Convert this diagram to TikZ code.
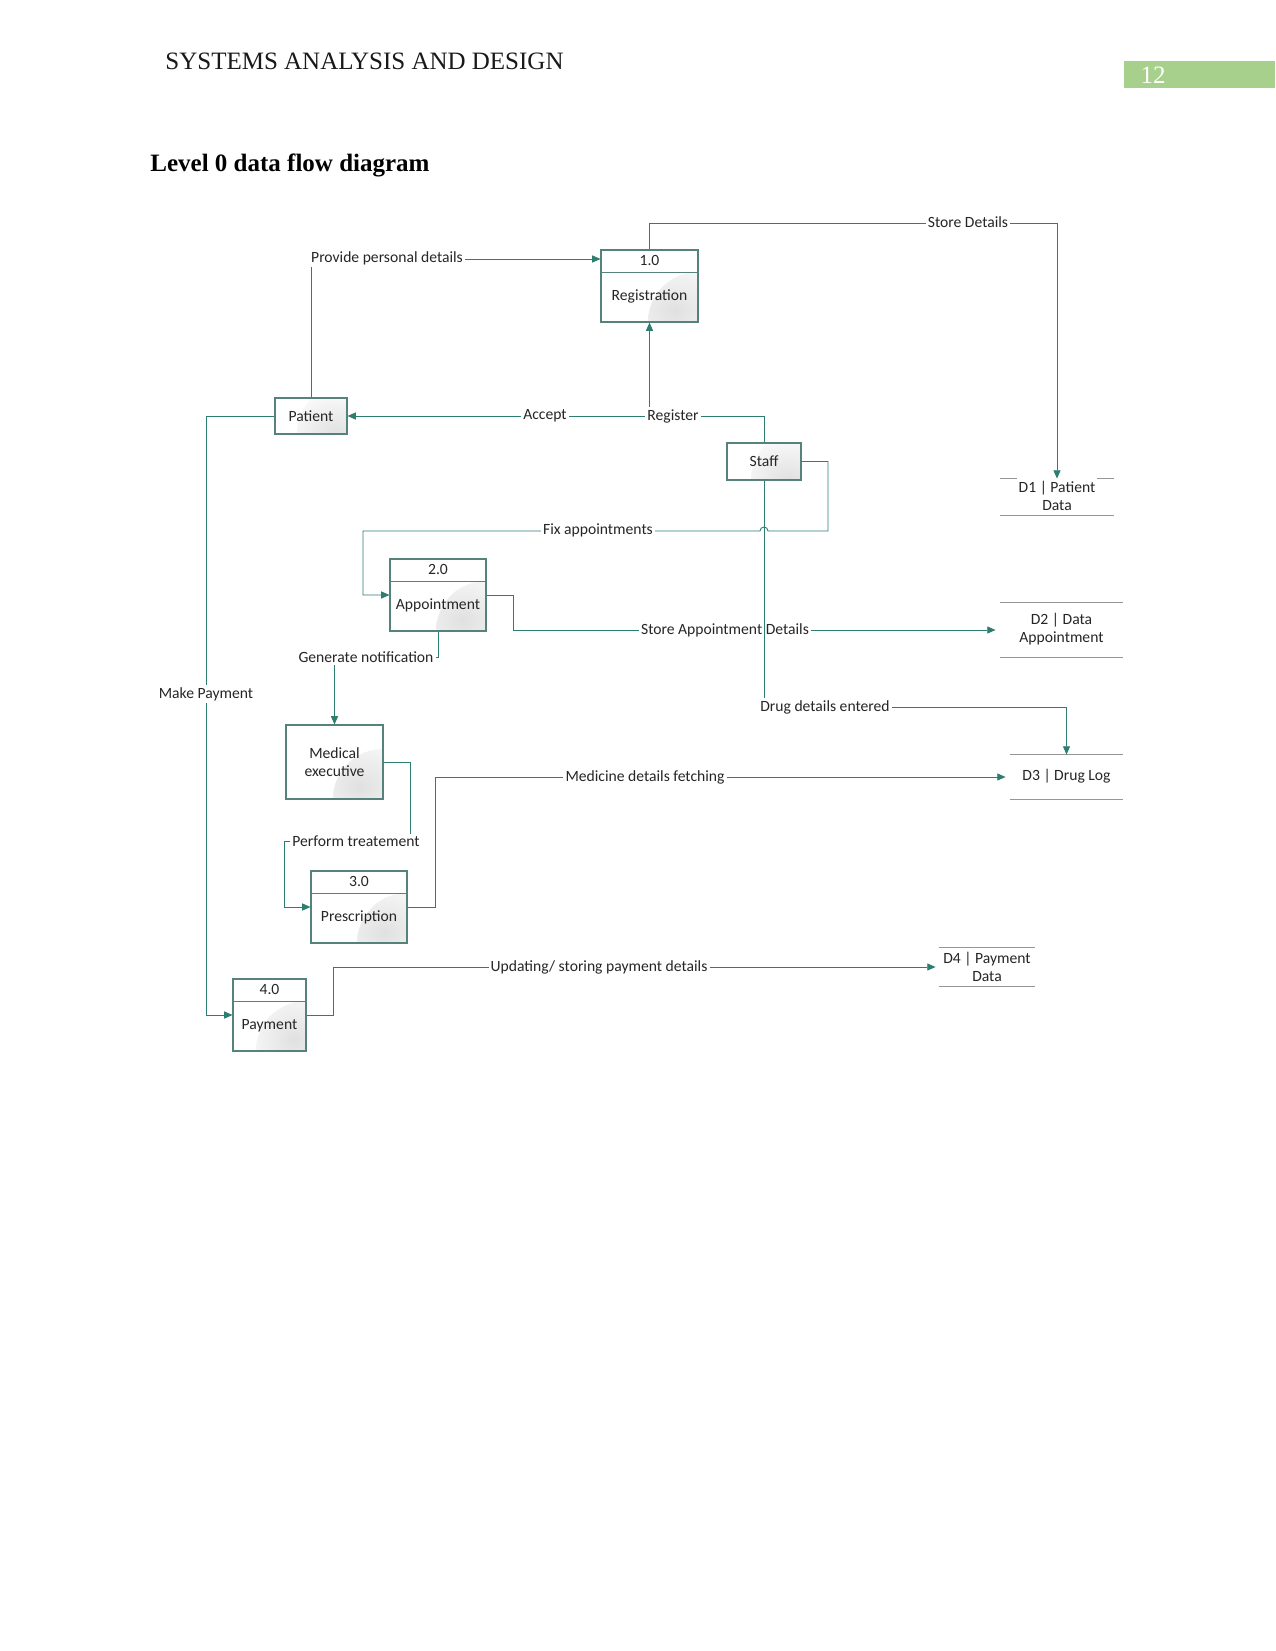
\documentclass[tikz,border=0pt]{standalone}
\usepackage{fontspec}
\setmainfont{Liberation Serif}
\newfontfamily\dfont{Carlito}
\usetikzlibrary{arrows.meta,calc}
\definecolor{linec}{RGB}{45,125,112}
\definecolor{boxc}{RGB}{85,130,122}
\definecolor{storec}{RGB}{150,150,150}
\definecolor{tabgreen}{RGB}{168,208,141}
\tikzset{
  flow/.style={draw=linec, line width=0.45pt, -{Triangle[length=4pt,width=3.4pt]}},
  proc/.style={draw=boxc, line width=0.5pt, fill=white, inner sep=0pt,
    path picture={\shade[inner color=black!12, outer color=white] (path picture bounding box.south east) circle[radius=24pt];}},
  txt/.style={font=\dfont\fontsize{7.5}{8.6}\selectfont, inner sep=0.5pt, align=center, text=black!85},
  ent/.style={proc, txt},
  lbl/.style={txt, fill=white, inner sep=1pt},
  storeline/.style={draw=storec, line width=0.5pt},
  store/.style={inner sep=0pt}
}
\newcommand\dfdproc[5]{%
  \node[proc, minimum width=#3*0.48pt, minimum height=34.56pt] (#1) at (#2) {};
  \draw[boxc, line width=0.5pt] ($(#1.north west)+(0,23)$) -- ($(#1.north east)+(0,23)$);
  \node[txt] (#1n) at ($(#1.north)+(0,11.5)$) {#4};
  \node[txt] (#1t) at ($(#1.north)+(0,47)$) {#5};}
\newcommand\dfdstore[5]{%
  \node[store, minimum width=#3*0.48pt, minimum height=#4*0.48pt] (#1) at (#2) {};
  \draw[storeline] (#1.north west) -- (#1.north east);
  \draw[storeline] (#1.south west) -- (#1.south east);}
\begin{document}
\begin{tikzpicture}[x=0.48pt, y=-0.48pt]
\useasboundingbox (0,0) rectangle (1275,1651);

% header
\node[anchor=west, font=\fontsize{12}{14}\selectfont, inner sep=0pt, text=black!90] (hdr) at (165,61) {SYSTEMS ANALYSIS AND DESIGN};
\node[fill=tabgreen, anchor=north west, minimum width=151*0.48pt, minimum height=27*0.48pt, inner sep=0pt] (tab) at (1124,61) {};
\node[text=white, font=\fontsize{12}{14}\selectfont, inner sep=0pt] (pg) at (1153,75) {12};
\node[anchor=west, font=\bfseries\fontsize{12}{14}\selectfont, inner sep=0pt] (title) at (150,165) {Level 0 data flow diagram};

% processes
\dfdproc{reg}{649.5,286}{97}{1.0}{Registration}
\dfdproc{app}{438,595}{96}{2.0}{Appointment}
\dfdproc{pre}{359,907}{96}{3.0}{Prescription}
\dfdproc{pay}{269.5,1015}{73}{4.0}{Payment}

% external entities
\node[ent, minimum width=72*0.48pt, minimum height=36*0.48pt] (patient) at (311,416) {Patient};
\node[ent, minimum width=74*0.48pt, minimum height=37*0.48pt] (staff) at (764,461.5) {Staff};
\node[ent, minimum width=97*0.48pt, minimum height=74*0.48pt] (medexec) at (334.5,762) {Medical\\executive};

% data stores
\dfdstore{d1}{1057,497}{114}{36}{}
\dfdstore{d2}{1061.5,630}{123}{54}{}
\dfdstore{d3}{1066.5,777}{113}{44}{}
\dfdstore{d4}{987,967}{96}{38}{}
\node[lbl, inner ysep=1.5pt] (d1t) at (1057,496) {D1 | Patient\\Data};
\node[lbl] (d2t) at (1061.5,629) {D2 | Data\\Appointment};
\node[lbl] (d3t) at (1066.5,776) {D3 | Drug Log};
\node[lbl, inner ysep=1.5pt] (d4t) at (987,966.5) {D4 | Payment\\Data};

% connectors
\coordinate (regj) at (649.5,416);
\draw[flow] (patient.north) -- (311,259) -- (reg.west |- 311,259);
\draw[flow] (reg.north) -- (649.5,223) -- (1057,223) -- (d1.north);
\draw[flow] (staff.north) -- (764,416) -- (patient.east);
\draw[flow] (regj) -- (reg.south);
\draw[flow] (staff.east) -- (828,461.5) -- (828,531) -- (768,531) arc[start angle=0, end angle=-180, radius=4] -- (363,531) -- (363,595) -- (app.west);
\draw[flow] (app.east) -- (513,595) -- (513,630) -- ($(d2.west)+(-4,0)$);
\draw[flow] (app.south) -- (438,657) -- (334.5,657) -- (medexec.north);
\draw[flow] (medexec.east) -- (410,762) -- (410,841) -- (284,841) -- (284,907) -- (pre.west);
\draw[flow] (pre.east) -- (435,907) -- (435,777) -- ($(d3.west)+(-4,0)$);
\draw[flow] (patient.west) -- (206,416) -- (206,1015) -- (pay.west);
\draw[flow] (pay.east) -- (333,1015) -- (333,967) -- ($(d4.west)+(-3,0)$);

% labels
\node[lbl] (l1) at (387,258) {Provide personal details};
\node[lbl] (l2) at (968,222) {Store Details};
\node[lbl] (l3) at (545,416) {Accept};
\node[lbl] (l4) at (673,416) {Register};
\node[lbl] (l5) at (598,530) {Fix appointments};
\node[lbl] (l6) at (725,630) {Store Appointment Details};
\node[lbl] (l7) at (366,657) {Generate notification};
\node[lbl] (l8) at (206,694) {Make Payment};
\node[lbl] (l9) at (356,841) {Perform treatement};
\node[lbl] (l10) at (645,777) {Medicine details fetching};
\node[lbl] (l11) at (599,967) {Updating/ storing payment details};

% staff to drug log (drawn over others)
\draw[flow] (staff.south) -- (764,707) -- (1066.5,707) -- (d3.north);
\node[lbl] (l12) at (825,707) {Drug details entered};
\end{tikzpicture}
\end{document}
